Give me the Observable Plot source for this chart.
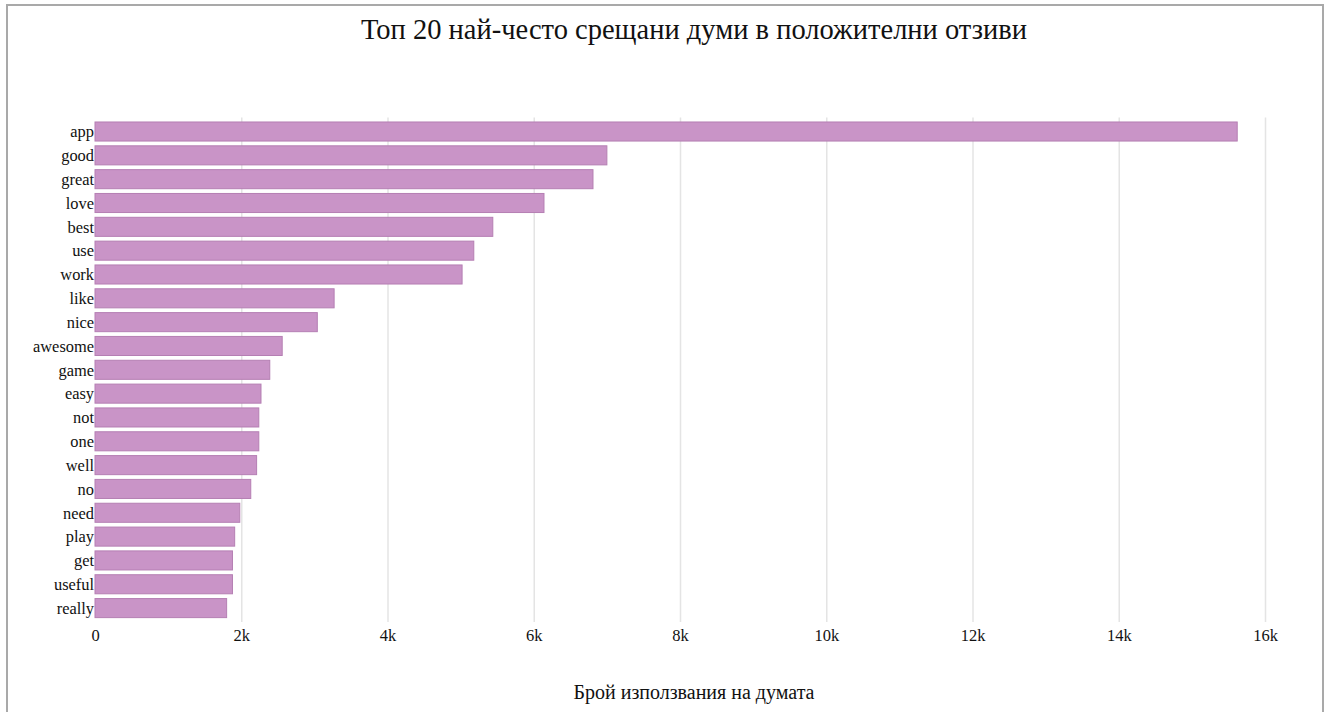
<!DOCTYPE html>
<html>
<head>
<meta charset="utf-8">
<script src="https://cdn.jsdelivr.net/npm/d3@7"></script>
<script src="https://cdn.jsdelivr.net/npm/@observablehq/plot@0.6"></script>
<style>
  html, body { margin: 0; padding: 0; background: #fff; width: 1333px; height: 712px; overflow: hidden; }
  #frame { position: absolute; left: 6px; top: 4px; width: 1318px; height: 760px; border: 2px solid #a9a9a9; box-sizing: border-box; }
  #title { position: absolute; left: 0; width: 1388px; top: 14px; text-align: center; font-family: "Liberation Serif", serif; font-size: 28.5px; color: #111; }
  #chart { position: absolute; left: 0; top: 70px; }
  #chart svg, #chart svg text { font-family: "Liberation Serif", serif !important; }
  #xlabel { position: absolute; left: 0; width: 1388px; top: 681px; text-align: center; font-family: "Liberation Serif", serif; font-size: 20px; color: #111; }
</style>
</head>
<body>
<div id="frame"></div>
<div id="title">Топ 20 най-често срещани думи в положителни отзиви</div>
<div id="chart"></div>
<div id="xlabel">Брой използвания на думата</div>
<script>
const words = ["app","good","great","love","best","use","work","like","nice","awesome","game","easy","not","one","well","no","need","play","get","useful","really"];
const counts = [15620,7000,6810,6140,5440,5180,5020,3270,3040,2560,2390,2270,2240,2240,2210,2130,1980,1910,1880,1880,1800];
const xTicks = [0,2000,4000,6000,8000,10000,12000,14000,16000];
const xTickLabels = ["0","2k","4k","6k","8k","10k","12k","14k","16k"];

const data = words.map((w, i) => ({word: w, count: counts[i]}));
const fmt = (d) => xTickLabels[xTicks.indexOf(d)];

const chart = Plot.plot({
  width: 1333,
  height: 600,
  marginTop: 49.6,
  marginBottom: 50,
  marginLeft: 95,
  marginRight: 68,
  style: {fontFamily: "'Liberation Serif', serif", fontSize: "16px", color: "#111", background: "transparent"},
  x: {domain: [0, 16000], ticks: xTicks, tickFormat: fmt, label: null},
  y: {domain: words, paddingInner: 0.2, paddingOuter: 0.1, round: false, label: null},
  marks: [
    Plot.ruleX(xTicks.slice(1), {stroke: "#e4e4e4", strokeWidth: 1.5, insetTop: -2, insetBottom: -2}),
    Plot.barX(data, {x: "count", y: "word", fill: "#c994c7", stroke: "#b57fb3", strokeWidth: 1}),
    Plot.axisX({ticks: xTicks, tickFormat: fmt, tickSize: 0, tickPadding: 9, fontSize: 16.5, label: null}),
    Plot.axisY({tickSize: 0, tickPadding: 1.5, fontSize: 16.4, label: null})
  ]
});
document.getElementById("chart").appendChild(chart);
</script>
</body>
</html>
